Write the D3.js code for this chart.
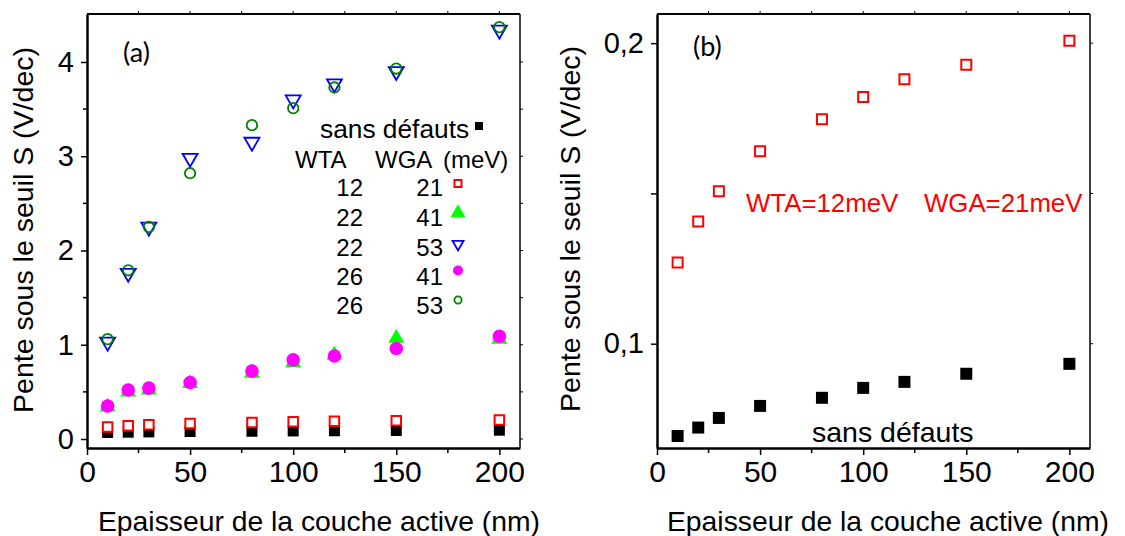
<!DOCTYPE html>
<html>
<head>
<meta charset="utf-8">
<script src="https://cdn.jsdelivr.net/npm/d3@7"></script>
<style>
  body { margin: 0; background: #fff; }
  svg text { font-family: "Liberation Sans", Arial, sans-serif; fill: #000; }
</style>
</head>
<body>
<div id="wrapper"></div>
<script>
// thickness of the active layer (nm)
const thickness = [10, 20, 30, 50, 80, 100, 120, 150, 200]

// subthreshold slope S (V/dec) for each defect case
const sansDefauts = [0.0693, 0.0721, 0.0753, 0.0793, 0.082, 0.0853, 0.0873, 0.090, 0.0933]
const wta12_wga21 = [0.127, 0.1407, 0.1507, 0.164, 0.1747, 0.1821, 0.188, 0.1928, 0.2008]
const wta22_wga41 = [0.34, 0.50, 0.52, 0.59, 0.70, 0.81, 0.89, 1.07, 1.06]
const wta22_wga53 = [1.03, 1.76, 2.25, 2.98, 3.15, 3.60, 3.77, 3.90, 4.34]
const wta26_wga41 = [0.35, 0.52, 0.54, 0.60, 0.72, 0.84, 0.88, 0.96, 1.09]
const wta26_wga53 = [1.06, 1.79, 2.25, 2.82, 3.33, 3.51, 3.73, 3.93, 4.37]

// legend rows of panel (a)
const legendWTA = ["12", "22", "22", "26", "26"]
const legendWGA = ["21", "41", "53", "41", "53"]

const xTicks = [0, 50, 100, 150, 200]
const xMinor = [25, 75, 125, 175]
const yTicksA = [0, 1, 2, 3, 4]
const yMinorA = [0.5, 1.5, 2.5, 3.5]
const yTicksB = [0.1, 0.15, 0.2]
const yLabelsB = ["0,1", "", "0,2"]

const xTitle = "Epaisseur de la couche active (nm)"
const yTitle = "Pente sous le seuil S (V/dec)"

const svg = d3.select("#wrapper").append("svg")
  .attr("width", 1125)
  .attr("height", 536)

const plotTop = 14, plotBottom = 448

// panel (a)
const xA = d3.scaleLinear().domain([0, 210]).range([87, 520])
const yA = d3.scaleLinear().domain([-0.0955, 4.509]).range([plotBottom, plotTop])
// panel (b)
const xB = d3.scaleLinear().domain([0, 210]).range([657, 1090])
const yB = d3.scaleLinear().domain([0.0653, 0.2097]).range([plotBottom, plotTop])

function frame(x, y) {
  const [x0, x1] = x.range()
  svg.append("line").attr("x1", x1).attr("x2", x1).attr("y1", plotTop).attr("y2", plotBottom)
    .attr("stroke", "#000").attr("stroke-width", 1.5)
  svg.append("line").attr("x1", x0).attr("x2", x1).attr("y1", plotTop).attr("y2", plotTop)
    .attr("stroke", "#000").attr("stroke-width", 2)
}

function axes(x, y, yTicks, yMinor, yFormat) {
  const [x0, x1] = x.range()
  // bottom axis
  const gx = svg.append("g").attr("transform", `translate(0,${plotBottom})`)
    .call(d3.axisBottom(x).tickValues(xTicks).tickSize(7).tickPadding(6).tickSizeOuter(0))
  gx.selectAll(".tick text").attr("font-size", 30).attr("font-family", "Liberation Sans")
  gx.append("g").selectAll("line").data(xMinor).join("line")
    .attr("x1", d => x(d)).attr("x2", d => x(d)).attr("y1", 0).attr("y2", 5)
    .attr("stroke", "#000").attr("stroke-width", 1.5)
  // top mirror ticks
  svg.append("g").selectAll("line").data(xTicks.concat(xMinor).filter(d => d > 0)).join("line")
    .attr("x1", d => x(d)).attr("x2", d => x(d)).attr("y1", plotTop).attr("y2", plotTop - 3)
    .attr("stroke", "#000").attr("stroke-width", 1)

  // left axis
  const gy = svg.append("g").attr("transform", `translate(${x0},0)`)
    .call(d3.axisLeft(y).tickValues(yTicks).tickFormat(yFormat).tickSize(6).tickPadding(7).tickSizeOuter(0))
  gy.selectAll(".tick text").attr("font-size", 29).attr("font-family", "Liberation Sans")
  gy.append("g").selectAll("line").data(yMinor).join("line")
    .attr("x1", 0).attr("x2", -4).attr("y1", d => y(d)).attr("y2", d => y(d))
    .attr("stroke", "#000").attr("stroke-width", 1.5)
  // right mirror ticks
  svg.append("g").selectAll("line").data(yTicks.concat(yMinor)).join("line")
    .attr("x1", x1).attr("x2", x1 + 3).attr("y1", d => y(d)).attr("y2", d => y(d))
    .attr("stroke", "#000").attr("stroke-width", 1)

  ;[gx, gy].forEach(g => {
    g.select(".domain").attr("stroke-width", 2.5)
    g.selectAll(".tick line").attr("stroke-width", 1.5)
  })
}

frame(xA, yA)
axes(xA, yA, yTicksA, yMinorA, d3.format("d"))
frame(xB, yB)
axes(xB, yB, yTicksB, [], (d, i) => yLabelsB[i])

// axis titles
svg.append("text").attr("x", 98).attr("y", 531).attr("font-size", 28.3).text(xTitle)
svg.append("text").attr("x", 667).attr("y", 531).attr("font-size", 28.3).text(xTitle)
svg.append("text").attr("transform", "translate(33,230) rotate(-90)")
  .attr("text-anchor", "middle").attr("font-size", 28.5).text(yTitle)
svg.append("text").attr("transform", "translate(580,229) rotate(-90)")
  .attr("text-anchor", "middle").attr("font-size", 28.5).text(yTitle)

// panel letters
svg.append("text").attr("x", 123).attr("y", 62).attr("font-size", 27)
  .style("font-family", "Lato, 'Open Sans', sans-serif").text("(a)")
svg.append("text").attr("x", 693).attr("y", 56).attr("font-size", 27)
  .style("font-family", "Lato, 'Open Sans', sans-serif").text("(b)")

// markers
const sym = (type, size) => d3.symbol().type(type).size(size)

function squares(x, y, values, side, filled, color) {
  svg.append("g").selectAll("path").data(values).join("path")
    .attr("transform", (d, i) => `translate(${x(thickness[i])},${y(d)})`)
    .attr("d", sym(d3.symbolSquare, side * side))
    .attr("fill", filled ? color : "#fff")
    .attr("stroke", filled ? "none" : color)
    .attr("stroke-width", 2)
}

function triangles(x, y, values, side, filled, color, down) {
  svg.append("g").selectAll("path").data(values).join("path")
    .attr("transform", (d, i) => `translate(${x(thickness[i])},${y(d)})` + (down ? " rotate(180)" : ""))
    .attr("d", sym(d3.symbolTriangle, Math.sqrt(3) / 4 * side * side))
    .attr("fill", filled ? color : "none")
    .attr("stroke", filled ? "none" : color)
    .attr("stroke-width", 1.8)
}

function circles(x, y, values, r, filled, color) {
  svg.append("g").selectAll("circle").data(values).join("circle")
    .attr("cx", (d, i) => x(thickness[i]))
    .attr("cy", d => y(d))
    .attr("r", r)
    .attr("fill", filled ? color : "none")
    .attr("stroke", filled ? "none" : color)
    .attr("stroke-width", 1.8)
}

// panel (a)
squares(xA, yA, sansDefauts, 11, true, "#000")
squares(xA, yA, wta12_wga21, 9.5, false, "#ff0000")
triangles(xA, yA, wta22_wga41, 16, true, "#00ff00", false)
circles(xA, yA, wta26_wga41, 6.8, true, "#ff00ff")
triangles(xA, yA, wta22_wga53, 15, false, "#0000ff", true)
circles(xA, yA, wta26_wga53, 5.2, false, "#008000")

// panel (b)
squares(xB, yB, wta12_wga21, 10, false, "#ff0000")
squares(xB, yB, sansDefauts, 12, true, "#000")

// legend of panel (a)
const leg = svg.append("g").attr("font-size", 24)
leg.append("text").attr("x", 320).attr("y", 138).attr("font-size", 26.3).text("sans défauts")
leg.append("rect").attr("x", 475).attr("y", 122).attr("width", 8).attr("height", 8).attr("fill", "#000")
leg.append("text").attr("x", 295).attr("y", 168).text("WTA")
leg.append("text").attr("x", 375).attr("y", 168).text("WGA")
leg.append("text").attr("x", 443).attr("y", 168).text("(meV)")
const rowY = [196, 226, 256, 285, 314]
leg.selectAll(".wta").data(legendWTA).join("text").attr("class", "wta")
  .attr("x", 363).attr("y", (d, i) => rowY[i]).attr("text-anchor", "end").text(d => d)
leg.selectAll(".wga").data(legendWGA).join("text").attr("class", "wga")
  .attr("x", 443).attr("y", (d, i) => rowY[i]).attr("text-anchor", "end").text(d => d)
const mx = 458
leg.append("rect").attr("x", mx - 3.5).attr("y", 180).attr("width", 7).attr("height", 7)
  .attr("fill", "none").attr("stroke", "#ff0000").attr("stroke-width", 2)
leg.append("path").attr("transform", `translate(${mx},213)`)
  .attr("d", sym(d3.symbolTriangle, Math.sqrt(3) / 4 * 15 * 15)).attr("fill", "#00ff00")
leg.append("path").attr("transform", `translate(${mx},244) rotate(180)`)
  .attr("d", sym(d3.symbolTriangle, Math.sqrt(3) / 4 * 11 * 11))
  .attr("fill", "none").attr("stroke", "#0000ff").attr("stroke-width", 1.8)
leg.append("circle").attr("cx", mx).attr("cy", 270.5).attr("r", 5).attr("fill", "#ff00ff")
leg.append("circle").attr("cx", mx).attr("cy", 300).attr("r", 3.6)
  .attr("fill", "none").attr("stroke", "#008000").attr("stroke-width", 1.8)

// annotations of panel (b)
svg.append("text").attr("x", 746).attr("y", 212).attr("font-size", 25.8)
  .style("fill", "#ff0000").text("WTA=12meV")
svg.append("text").attr("x", 924).attr("y", 212).attr("font-size", 25.8)
  .style("fill", "#ff0000").text("WGA=21meV")
svg.append("text").attr("x", 812).attr("y", 442).attr("font-size", 28.5).text("sans défauts")
</script>
</body>
</html>
